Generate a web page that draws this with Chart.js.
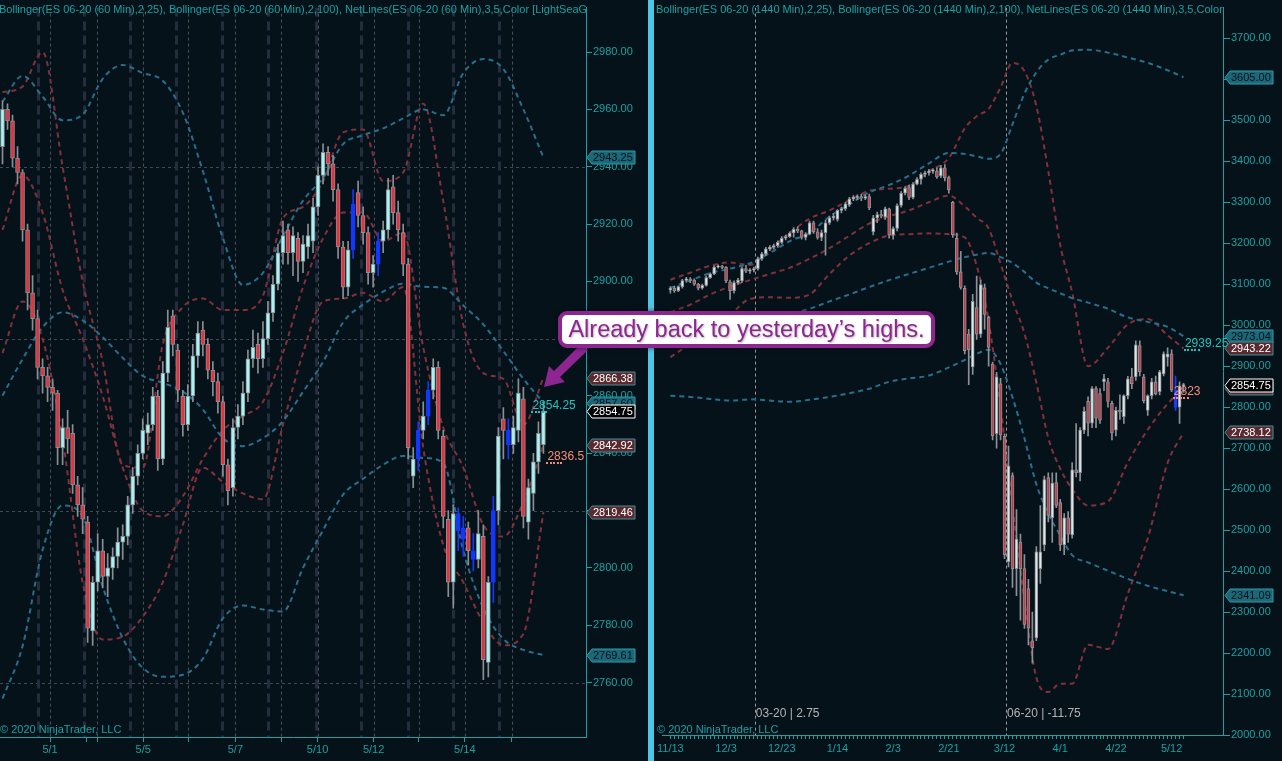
<!DOCTYPE html>
<html>
<head>
<meta charset="utf-8">
<title>ES 06-20 60 Min / 1440 Min</title>
<script src="https://cdn.jsdelivr.net/npm/chart.js@4.4.1/dist/chart.umd.min.js"></script>
<style>
  html, body { margin: 0; padding: 0; background: #06121a; }
  #stage { position: relative; width: 1282px; height: 761px; overflow: hidden; background: #06121a;
           font-family: "Liberation Sans", Arial, sans-serif; }
  #leftPane { position: absolute; left: 0; top: 0; width: 648px; height: 761px; }
  #rightPane { position: absolute; left: 654px; top: 0; width: 628px; height: 761px; }
  #divider { position: absolute; left: 648px; top: 0; width: 6px; height: 761px; background: #52c5e6; }
  .hdr { position: absolute; top: 2px; height: 14px; font-size: 11px; line-height: 14px; color: #17a2a4;
         white-space: nowrap; overflow: hidden; }
  .copy { position: absolute; top: 723px; font-size: 11px; line-height: 13px; color: #17a2a4; white-space: nowrap; }
  #arrow { position: absolute; left: 0; top: 0; pointer-events: none; }
  #callout { position: absolute; left: 558px; top: 311px; width: 369px; height: 29px; border: 4px solid #8d2690;
             border-radius: 9px; background: #ffffff; color: #8d2690; font-size: 23.5px; line-height: 29px;
             text-align: center; white-space: nowrap; box-shadow: 0 0 5px rgba(0,0,0,0.6);
             text-shadow: 1px 1px 2px rgba(0,0,0,0.3); }
</style>
</head>
<body>
<div id="stage">
  <div id="leftPane"><canvas id="leftChart" width="648" height="761"></canvas></div>
  <div id="divider"></div>
  <div id="rightPane"><canvas id="rightChart" width="628" height="761"></canvas></div>
  <div class="hdr" style="left:-1px;width:587px;">Bollinger(ES 06-20 (60 Min),2,25), Bollinger(ES 06-20 (60 Min),2,100), NetLines(ES 06-20 (60 Min),3,5,Color [LightSeaGreen],Color [Salmon])</div>
  <div class="hdr" style="left:656px;width:568px;">Bollinger(ES 06-20 (1440 Min),2,25), Bollinger(ES 06-20 (1440 Min),2,100), NetLines(ES 06-20 (1440 Min),3,5,Color [LightSeaGreen],Color [Salmon])</div>
  <div class="copy" style="left:0px;">© 2020 NinjaTrader, LLC</div>
  <div class="copy" style="left:657px;">© 2020 NinjaTrader, LLC</div>
  <svg id="arrow" width="1282" height="761">
    <polygon points="581,344 554,371 549,366 544,387 565,382 560,377 588,350" fill="#8d2690"/>
  </svg>
  <div id="callout">Already back to yesterday’s highs.</div>
</div>
<script>
// ---------- 60 min panel (left) ----------
const leftOpen = [
  2947,2960,2956,2943,2938,2918,2896,2887,2870,2867,
  2863,2861,2842,2849,2847,2829,2822,2816,2778,2795,
  2806,2797,2800,2804,2809,2811,2822,2832,2840,2847,
  2850,2860,2838,2868,2888,2876,2860,2850,2860,2874,
  2883,2878,2869,2865,2858,2836,2828,2849,2853,2861,
  2873,2878,2873,2880,2889,2899,2910,2918,2910,2915,
  2907,2912,2914,2926,2937,2945,2941,2932,2912,2898,
  2911,2931,2923,2917,2903,2906,2914,2918,2933,2924,
  2917,2906,2832,2838,2848,2853,2862,2870,2846,2817,
  2795,2819,2810,2814,2806,2803,2811,2767,2795,2820,
  2852,2848,2843,2848,2859,2816,2826,2837,2843
];
const leftHigh = [
  2963,2962,2958,2947,2939,2920,2902,2890,2873,2870,
  2866,2862,2852,2855,2850,2832,2828,2818,2797,2812,
  2810,2805,2807,2814,2815,2825,2835,2843,2852,2854,
  2863,2862,2872,2890,2890,2878,2862,2864,2878,2886,
  2886,2880,2872,2868,2860,2838,2852,2857,2865,2876,
  2883,2882,2886,2893,2902,2913,2921,2920,2919,2917,
  2916,2920,2929,2940,2948,2947,2944,2934,2914,2914,
  2932,2935,2926,2919,2909,2917,2921,2936,2937,2928,
  2920,2908,2842,2851,2858,2865,2873,2872,2848,2820,
  2822,2821,2818,2816,2812,2820,2815,2797,2825,2849,
  2856,2852,2853,2866,2863,2831,2840,2851,2858
];
const leftLow = [
  2941,2953,2940,2934,2914,2890,2883,2866,2861,2858,
  2855,2836,2836,2840,2826,2818,2812,2774,2773,2792,
  2793,2790,2796,2800,2803,2808,2819,2829,2838,2843,
  2848,2834,2836,2865,2874,2858,2846,2848,2858,2870,
  2874,2866,2860,2854,2832,2822,2825,2845,2850,2858,
  2870,2868,2870,2878,2886,2897,2906,2906,2902,2900,
  2903,2908,2910,2923,2934,2937,2928,2908,2894,2895,
  2908,2919,2913,2899,2898,2902,2910,2915,2920,2914,
  2902,2838,2828,2834,2845,2850,2859,2845,2814,2790,
  2786,2806,2804,2801,2799,2800,2761,2762,2788,2815,
  2838,2838,2840,2844,2814,2810,2820,2833,2840
];
const leftClose = [
  2960,2956,2943,2938,2918,2896,2887,2870,2867,2863,
  2861,2842,2849,2845,2829,2822,2817,2779,2795,2806,
  2797,2800,2804,2809,2811,2822,2832,2840,2848,2850,
  2860,2838,2868,2884,2878,2862,2850,2860,2874,2882,
  2878,2869,2865,2858,2836,2827,2849,2853,2861,2873,
  2877,2873,2880,2889,2899,2910,2916,2910,2916,2907,
  2913,2916,2926,2937,2945,2941,2932,2912,2898,2911,
  2927,2923,2917,2903,2906,2914,2918,2932,2924,2918,
  2906,2842,2838,2848,2853,2862,2870,2848,2818,2795,
  2819,2813,2814,2806,2803,2812,2768,2795,2820,2846,
  2848,2843,2849,2861,2818,2828,2837,2847,2854.75
];
const leftBlueBars = [70, 75, 83, 85, 91, 92, 94, 98, 101];

const leftBandIdx = [0,4,8,12,16,20,24,28,32,36,40,44,48,52,56,60,64,68,72,76,80,84,88,92,96,100,104,108];
const leftBB25Up  = [2966,2968,2980,2940,2900,2872,2836,2835,2878,2891,2894,2890,2890,2895,2922,2926,2935,2952,2953,2935,2938,2962,2928,2885,2868,2866,2850,2866.38];
const leftBB25Mid = [2918,2937,2924,2897,2880,2860,2835,2820,2818,2825,2838,2848,2853,2858,2875,2898,2915,2924,2924,2914,2917,2877,2849,2835,2815,2811,2823,2842.92];
const leftBB25Low = [2875,2893,2880,2845,2795,2775,2776,2783,2795,2815,2835,2830,2826,2824,2850,2875,2893,2894,2896,2893,2898,2842,2808,2795,2781,2773,2777,2819.46];
const leftBB100Up  = [2962.7,2971.7,2964.5,2956.2,2958.2,2970.7,2975.5,2972.7,2970.0,2958.9,2938.5,2915.1,2898.8,2903.0,2915.8,2928.2,2936.1,2947.9,2951.0,2953.4,2956.9,2960.0,2958.0,2972.7,2977.6,2974.1,2960.0,2943.25];
const leftBB100Mid = [2860.1,2872.9,2884.0,2889.2,2886.4,2880.5,2873.3,2867.0,2864.6,2861.5,2855.3,2845.3,2842.5,2845.3,2851.2,2861.5,2871.9,2885.7,2891.9,2896.4,2899.2,2898.1,2897.8,2891.6,2885.0,2875.7,2866.0,2857.6];
const leftBB100Low = [2754.4,2772.7,2806.3,2821.8,2818.0,2793.5,2775.5,2765.1,2762.0,2762.7,2768.3,2782.4,2786.9,2785.5,2784.8,2800.0,2813.2,2825.6,2831.1,2836.0,2839.1,2838.4,2836.6,2806.0,2786.0,2775.2,2771.4,2769.61];

const leftYTicks = [2760,2780,2800,2820,2840,2860,2880,2900,2920,2940,2960,2980];
const leftHGrid = [2760, 2820, 2880, 2940];
const leftTickIdx = [9.5, 16.7, 18.9, 28.1, 37.1, 46.5, 55.7, 62.9, 74.1, 83.1, 92.3, 101.7];
const leftLabelIdx = [9.5, 28.1, 46.5, 62.9, 74.1, 92.3];
const leftLabelText = ['5/1', '5/5', '5/7', '5/10', '5/12', '5/14'];
const leftSessionIdx = [7.1, 16.3, 25.5, 34.7, 43.9, 53.1, 62.5, 71.5, 80.9, 89.9, 99.1];
const leftDayIdx = [9.5, 18.9, 28.1, 37.1, 46.5, 55.7, 62.9, 74.1, 83.1, 92.3, 101.7];

const leftFlagValues = [2943.25, 2866.38, 2857.60, 2842.92, 2819.46, 2769.61, 2854.75];
const leftFlagKinds  = ['blue', 'red', 'blue', 'red', 'red', 'blue', 'price'];
const leftNetValues = [2854.25, 2836.5];
const leftNetText   = ['2854.25', '2836.5'];
const leftNetFrom   = [105.6, 108.6];

// ---------- daily panel (right) ----------
const rightOpen = [
  3086,3090,3084,3094,3109,3113,3110,3100,3090,3097,
  3116,3125,3142,3144,3141,3106,3084,3104,3108,3138,
  3132,3135,3138,3162,3174,3186,3190,3194,3202,3212,
  3216,3225,3234,3230,3214,3222,3250,3228,3214,3226,
  3250,3262,3258,3280,3284,3294,3308,3312,3314,3310,
  3314,3228,3262,3270,3264,3284,3220,3236,3292,3322,
  3336,3312,3344,3356,3368,3372,3376,3376,3364,3384,
  3360,3300,3212,3130,3090,2978,2898,3043,2978,3091,
  3019,2905,2735,2857,2729,2423,2633,2406,2471,2406,
  2357,2230,2237,2406,2464,2628,2530,2616,2567,2464,
  2530,2488,2647,2640,2744,2814,2761,2845,2833,2862,
  2862,2809,2744,2792,2777,2828,2874,2874,2950,2874,
  2792,2828,2862,2838,2881,2922,2930,2842,2800,2852
];
const rightHigh = [
  3094,3095,3096,3112,3117,3116,3113,3102,3100,3120,
  3128,3145,3147,3146,3143,3110,3108,3114,3142,3146,
  3138,3142,3166,3178,3190,3194,3198,3206,3216,3220,
  3228,3238,3240,3232,3226,3254,3254,3236,3232,3256,
  3266,3272,3282,3288,3300,3312,3316,3318,3320,3318,
  3320,3268,3276,3280,3288,3286,3240,3296,3326,3338,
  3342,3348,3360,3372,3376,3380,3382,3384,3390,3392,
  3364,3302,3225,3180,3096,2990,3075,3120,3110,3100,
  3022,2910,2885,2870,2735,2705,2640,2550,2490,2440,
  2380,2300,2460,2560,2632,2640,2640,2640,2575,2540,
  2545,2665,2760,2750,2800,2825,2850,2850,2845,2880,
  2870,2815,2800,2830,2830,2875,2895,2962,2962,2880,
  2830,2870,2876,2890,2935,2945,2940,2876,2862,2858
];
const rightLow = [
  3078,3080,3082,3090,3105,3104,3097,3086,3088,3095,
  3114,3123,3139,3138,3104,3063,3078,3100,3104,3128,
  3126,3130,3134,3158,3170,3182,3186,3190,3198,3208,
  3214,3215,3226,3210,3208,3220,3224,3210,3206,3171,
  3246,3256,3254,3274,3280,3290,3304,3306,3304,3306,
  3282,3220,3250,3262,3258,3212,3210,3230,3288,3318,
  3306,3308,3342,3344,3362,3366,3370,3358,3360,3352,
  3322,3214,3124,3088,2930,2855,2880,2965,2970,2990,
  2900,2720,2700,2720,2430,2410,2360,2340,2280,2260,
  2220,2175,2230,2370,2450,2520,2470,2555,2450,2440,
  2470,2480,2630,2620,2735,2730,2750,2750,2760,2840,
  2800,2720,2730,2770,2760,2820,2845,2865,2876,2810,
  2780,2820,2830,2830,2876,2900,2838,2792,2760,2836
];
const rightClose = [
  3090,3084,3094,3109,3113,3110,3100,3090,3097,3116,
  3125,3142,3144,3141,3108,3084,3104,3110,3138,3132,
  3135,3138,3162,3174,3186,3190,3194,3202,3212,3216,
  3225,3234,3230,3214,3222,3250,3228,3214,3226,3250,
  3262,3266,3280,3284,3296,3308,3312,3314,3310,3314,
  3286,3262,3270,3266,3284,3220,3236,3292,3322,3334,
  3312,3344,3356,3368,3372,3376,3378,3362,3384,3360,
  3330,3220,3130,3092,2938,2940,3058,2978,3099,3026,
  2946,2730,2874,2732,2440,2657,2406,2478,2406,2270,
  2261,2213,2447,2447,2623,2536,2615,2560,2464,2530,
  2490,2647,2640,2744,2790,2761,2845,2773,2768,2869,
  2814,2737,2792,2788,2828,2869,2857,2952,2886,2816,
  2828,2862,2833,2886,2930,2930,2842,2800,2852,2855
];
const rightBlueBars = [127];

const rightBandIdx = [0,5,10,15,20,25,30,35,40,45,50,55,60,65,70,74,77,80,83,86,89,92,95,98,101,105,110,115,120,125,129];
const rightBB25Up  = [3111,3128,3145,3153,3147,3185,3225,3260,3280,3305,3328,3333,3340,3375,3408,3480,3510,3528,3580,3640,3620,3535,3376,3196,3080,2900,2945,3002,3015,2975,2943.22];
const rightBB25Mid = [3032,3050,3075,3094,3110,3125,3140,3162,3188,3218,3248,3266,3280,3300,3316,3290,3262,3236,3150,3060,2980,2860,2725,2650,2600,2560,2570,2665,2745,2808,2846];
const rightBB25Low = [2922,2955,2990,3025,3064,3068,3067,3075,3125,3170,3200,3219,3222,3224,3222,3214,3145,3010,2800,2560,2330,2140,2105,2125,2125,2220,2210,2345,2480,2664,2738.12];
const rightBB100Up  = [3091,3109,3127,3138,3151,3176,3205,3225,3265,3295,3324,3342,3365,3395,3420,3418,3412,3406,3418,3490,3565,3617,3648,3660,3670,3672,3665,3653,3640,3622,3605];
const rightBB100Mid = [2960,2968,2978,2990,3002,3015,3028,3040,3058,3075,3093,3110,3125,3140,3155,3166,3172,3176,3166,3152,3130,3104,3090,3078,3066,3055,3040,3019,3008,2996,2973.04];
const rightBB100Low = [2828,2825,2820,2816,2819,2816,2813,2818,2825,2834,2845,2862,2870,2877,2897,2915,2930,2940,2905,2824,2724,2612,2540,2487,2439,2421,2401,2381,2364,2351,2341.09];

const rightYTicks = [2000,2100,2200,2300,2400,2500,2600,2700,2800,2900,3000,3100,3200,3300,3400,3500,3600,3700];
const rightLabelIdx = [0, 14, 28, 42, 56, 70, 84, 98, 112, 126];
const rightLabelText = ['11/13', '12/3', '12/23', '1/14', '2/3', '2/21', '3/12', '4/1', '4/22', '5/12'];
const rightTickIdx = rightOpen.map((v, i) => i);
const rightRollIdx = [21.2, 84.4];
const rightRollText = ['03-20 | 2.75', '06-20 | -11.75'];

const rightFlagValues = [3605.00, 2973.04, 2943.22, 2846.00, 2738.12, 2341.09, 2854.75];
const rightFlagKinds  = ['blue', 'blue', 'red', 'red', 'red', 'blue', 'price'];
const rightNetValues = [2939.25, 2823];
const rightNetText   = ['2939.25', '2823'];
const rightNetFrom   = [129.1, 126.3];

// ---------- styles ----------
const TEAL = '#17a2a4';
const FONT = "'Liberation Sans', Arial, sans-serif";
const RED_BAND = '#82303a';
const BLUE_BAND = '#276f8d';
const FLAG_STYLE = {
  blue:  { fill: '#1c6878', edge: '#2f9aa8', text: '#06121a' },
  red:   { fill: '#5a2a30', edge: '#3a8f98', text: '#ffffff' },
  price: { fill: '#000000', edge: '#ffffff', text: '#ffffff' }
};
const NET_COLORS = ['#20c4bf', '#f58c78'];

function bandLine(idx, vals, color) {
  return {
    type: 'line',
    data: idx.map((v, k) => ({ x: v, y: vals[k] })),
    borderColor: color,
    borderWidth: 2,
    borderDash: [5, 4],
    pointRadius: 0,
    cubicInterpolationMode: 'monotone',
    fill: false,
    order: 5
  };
}

function candleSets(open, high, low, close, blue, pal, bodyWidth) {
  const isBlue = i => blue.includes(i);
  return [
    {
      type: 'bar',
      data: open.map((o, i) => ({ x: i, y: [low[i], high[i]] })),
      backgroundColor: open.map((o, i) => isBlue(i) ? pal.blue : pal.wick),
      borderWidth: 0,
      barThickness: 1,
      grouped: false,
      order: 2
    },
    {
      type: 'bar',
      data: open.map((o, i) => ({ x: i, y: [o, close[i]] })),
      backgroundColor: open.map((o, i) => isBlue(i) ? pal.blue : (close[i] >= o ? pal.up : pal.down)),
      borderColor: open.map((o, i) => isBlue(i) ? pal.blue : pal.edge),
      borderWidth: 1,
      borderSkipped: false,
      barThickness: bodyWidth,
      grouped: false,
      order: 1
    }
  ];
}

function drawFlag(ctx, x0, y, text, st) {
  const h = 13, w = 48, tip = 5;
  ctx.beginPath();
  ctx.moveTo(x0, y);
  ctx.lineTo(x0 + tip, y - h / 2);
  ctx.lineTo(x0 + w, y - h / 2);
  ctx.lineTo(x0 + w, y + h / 2);
  ctx.lineTo(x0 + tip, y + h / 2);
  ctx.closePath();
  ctx.fillStyle = st.fill;
  ctx.fill();
  ctx.lineWidth = 1;
  ctx.strokeStyle = st.edge;
  ctx.stroke();
  ctx.fillStyle = st.text;
  ctx.font = '11px ' + FONT;
  ctx.textAlign = 'left';
  ctx.textBaseline = 'middle';
  ctx.fillText(text, x0 + 6, y + 0.5);
}

function panelDecor(p) {
  return {
    id: 'panelDecor',
    beforeDatasetsDraw(chart) {
      const { ctx, chartArea: a } = chart;
      const xs = chart.scales.x, ys = chart.scales.y;
      ctx.save();
      ctx.beginPath();
      ctx.rect(a.left, a.top, a.right - a.left, a.bottom - a.top);
      ctx.clip();
      ctx.lineWidth = 1;
      ctx.strokeStyle = '#434756';
      ctx.setLineDash([3, 3]);
      (p.hGrid || []).forEach(v => {
        const y = Math.round(ys.getPixelForValue(v)) + 0.5;
        ctx.beginPath(); ctx.moveTo(a.left, y); ctx.lineTo(a.right, y); ctx.stroke();
      });
      ctx.lineWidth = 3;
      ctx.strokeStyle = '#242c3d';
      ctx.setLineDash([9, 5]);
      (p.sessions || []).forEach(v => {
        const x = Math.round(xs.getPixelForValue(v)) + 0.5;
        ctx.beginPath(); ctx.moveTo(x, a.top); ctx.lineTo(x, a.bottom); ctx.stroke();
      });
      ctx.lineWidth = 1;
      ctx.strokeStyle = p.dayColor || '#4c4f5e';
      ctx.setLineDash([3, 3]);
      (p.days || []).forEach(v => {
        const x = Math.round(xs.getPixelForValue(v)) + 0.5;
        ctx.beginPath(); ctx.moveTo(x, a.top); ctx.lineTo(x, a.bottom); ctx.stroke();
      });
      ctx.setLineDash([]);
      ctx.fillStyle = '#b4b4b4';
      ctx.font = '12px ' + FONT;
      ctx.textBaseline = 'middle';
      (p.dayText || []).forEach((t, k) => {
        ctx.fillText(t, xs.getPixelForValue(p.days[k]) + 1, 714);
      });
      ctx.restore();
    },
    afterDatasetsDraw(chart) {
      const { ctx, chartArea: a } = chart;
      const xs = chart.scales.x, ys = chart.scales.y;
      ctx.save();
      p.netValues.forEach((v, k) => {
        const y = ys.getPixelForValue(v);
        const x = xs.getPixelForValue(p.netFrom[k]);
        ctx.fillStyle = NET_COLORS[k];
        for (let d = 0; d < 5; d++) ctx.fillRect(Math.round(x + d * 3.5), Math.round(y) - 1, 2, 2);
        ctx.font = '12px ' + FONT;
        ctx.textAlign = 'left';
        ctx.textBaseline = 'alphabetic';
        ctx.fillText(p.netText[k], x + 1, y - 3);
      });
      p.flagValues.forEach((v, k) => {
        drawFlag(ctx, a.right + 1, Math.round(ys.getPixelForValue(v)) + 0.5, v.toFixed(2), FLAG_STYLE[p.flagKinds[k]]);
      });
      ctx.restore();
    }
  };
}

function buildPanel(canvasId, c) {
  const datasets = [
    bandLine(c.bandIdx, c.bb100[0], BLUE_BAND),
    bandLine(c.bandIdx, c.bb100[1], BLUE_BAND),
    bandLine(c.bandIdx, c.bb100[2], BLUE_BAND),
    bandLine(c.bandIdx, c.bb25[0], RED_BAND),
    bandLine(c.bandIdx, c.bb25[1], RED_BAND),
    bandLine(c.bandIdx, c.bb25[2], RED_BAND),
    ...candleSets(c.o, c.h, c.l, c.cl, c.blue, c.pal, c.bodyWidth)
  ];
  return new Chart(document.getElementById(canvasId), {
    type: 'bar',
    data: { datasets },
    options: {
      responsive: false,
      animation: false,
      devicePixelRatio: 1,
      events: [],
      layout: { padding: c.padding },
      plugins: { legend: { display: false }, tooltip: { enabled: false } },
      scales: {
        x: {
          type: 'linear',
          min: c.xMin,
          max: c.xMax,
          offset: false,
          afterBuildTicks: s => { s.ticks = c.xTicks.map(v => ({ value: v })); },
          afterFit: s => { s.height = c.xHeight; },
          ticks: {
            autoSkip: false, maxRotation: 0, minRotation: 0, padding: c.xPad,
            color: TEAL, font: { family: FONT, size: 11 },
            callback: v => { const k = c.labelIdx.indexOf(v); return k >= 0 ? c.labelText[k] : ''; }
          },
          grid: { offset: false, drawOnChartArea: false, color: TEAL, tickColor: TEAL, tickLength: c.xTickLen },
          border: { color: TEAL, width: 1 }
        },
        y: {
          position: 'right',
          min: c.yMin,
          max: c.yMax,
          afterBuildTicks: s => { s.ticks = c.yTicks.map(v => ({ value: v })); },
          afterFit: s => { s.width = c.yWidth; },
          ticks: {
            padding: 1, color: TEAL, font: { family: FONT, size: 11 },
            callback: v => Number(v).toFixed(2)
          },
          grid: { drawOnChartArea: false, color: TEAL, tickColor: TEAL, tickLength: 6 },
          border: { color: TEAL, width: 1 }
        }
      }
    },
    plugins: [panelDecor(c.decor)]
  });
}

buildPanel('leftChart', {
  o: leftOpen, h: leftHigh, l: leftLow, cl: leftClose, blue: leftBlueBars,
  pal: { up: '#a9f2f2', down: '#e5323d', edge: '#8a8f94', wick: '#8a8f94', blue: '#1238ff' },
  bodyWidth: 4,
  bandIdx: leftBandIdx,
  bb25: [leftBB25Up, leftBB25Mid, leftBB25Low],
  bb100: [leftBB100Up, leftBB100Mid, leftBB100Low],
  padding: { left: 0, right: 0, top: 0, bottom: 0 },
  xMin: -0.5, xMax: 116.5, xTicks: leftTickIdx, labelIdx: leftLabelIdx, labelText: leftLabelText,
  xHeight: 24, xTickLen: 5, xPad: 1,
  yMin: 2741.0, yMax: 2995.54, yTicks: leftYTicks, yWidth: 62,
  decor: {
    hGrid: leftHGrid, sessions: leftSessionIdx, days: leftDayIdx,
    netValues: leftNetValues, netText: leftNetText, netFrom: leftNetFrom,
    flagValues: leftFlagValues, flagKinds: leftFlagKinds
  }
});

buildPanel('rightChart', {
  o: rightOpen, h: rightHigh, l: rightLow, cl: rightClose, blue: rightBlueBars,
  pal: { up: '#dde6e6', down: '#c23e48', edge: '#8c9196', wick: '#8c9196', blue: '#1a3cff' },
  bodyWidth: 3,
  bandIdx: rightBandIdx,
  bb25: [rightBB25Up, rightBB25Mid, rightBB25Low],
  bb100: [rightBB100Up, rightBB100Mid, rightBB100Low],
  padding: { left: 1, right: 0, top: 0, bottom: 0 },
  xMin: -1.985, xMax: 139.17, xTicks: rightTickIdx, labelIdx: rightLabelIdx, labelText: rightLabelText,
  xHeight: 26, xTickLen: 4, xPad: 3,
  yMin: 2000, yMax: 3774.9, yTicks: rightYTicks, yWidth: 58,
  decor: {
    days: rightRollIdx, dayColor: '#9a9a9a', dayText: rightRollText,
    netValues: rightNetValues, netText: rightNetText, netFrom: rightNetFrom,
    flagValues: rightFlagValues, flagKinds: rightFlagKinds
  }
});
</script>
</body>
</html>
